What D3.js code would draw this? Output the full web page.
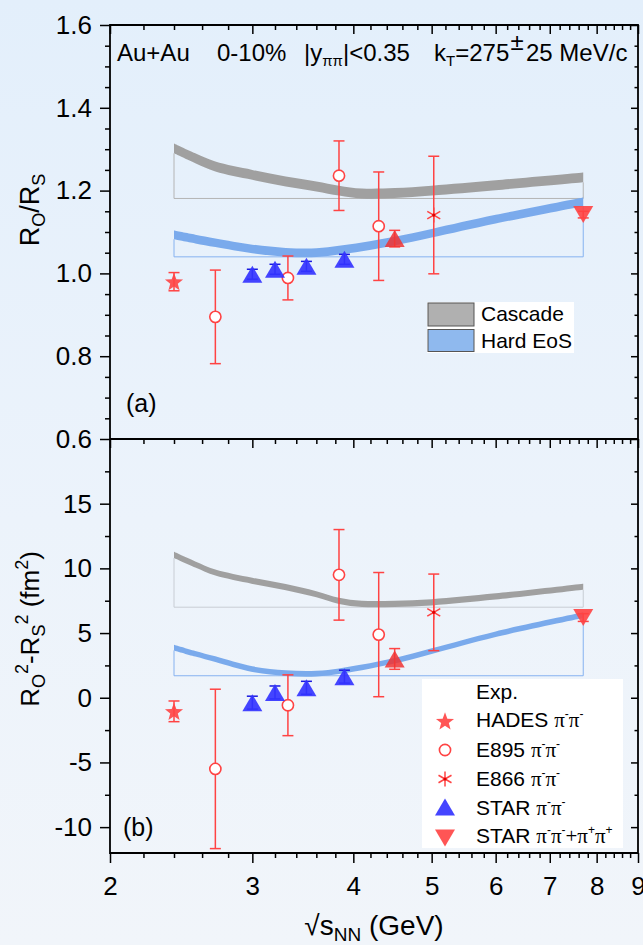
<!DOCTYPE html>
<html><head><meta charset="utf-8">
<script src="https://cdn.jsdelivr.net/npm/d3@7"></script>
<style>
html,body{margin:0;padding:0;background:#EAF2FB;}
svg{display:block;font-family:"Liberation Sans",Arial,Helvetica,sans-serif;}
</style></head><body>
<svg id="chart" width="643" height="945"></svg>
<script>
// ---- model bands (sampled along sqrt(s_NN), GeV) ----
const bandEnergy   = [2.4, 2.55, 2.7, 3.0, 3.3, 3.6, 3.84, 4.1, 4.5, 5.0, 6.0, 7.7];
const cascadeRatio = [1.302, 1.278, 1.258, 1.238, 1.222, 1.210, 1.200, 1.193, 1.194, 1.200, 1.213, 1.232];
const hardEosRatio = [1.093, 1.083, 1.074, 1.059, 1.051, 1.050, 1.056, 1.064, 1.078, 1.097, 1.131, 1.173];
const cascadeDiff  = [11.04, 10.30, 9.68, 9.04, 8.55, 8.00, 7.49, 7.26, 7.26, 7.38, 7.83, 8.58];
const hardEosDiff  = [3.88, 3.40, 2.98, 2.21, 1.90, 1.86, 2.05, 2.35, 2.86, 3.60, 4.91, 6.38];
const bandHalfRatio = [0.012, 0.0105];   // cascade, hard EoS
const bandHalfDiff  = [0.24, 0.22];
const bandBaseRatio = [1.181, 1.040];
const bandBaseDiff  = [7.0, 1.7];

// ---- measurements ----
const hadesE = [2.4];
const hadesRatio = [0.980], hadesRatioErr = [0.022];
const hadesDiff = [-1.05],  hadesDiffErr = [0.8];

const e895E = [2.7, 3.32, 3.84, 4.3];
const e895Ratio = [0.895, 0.989, 1.236, 1.114], e895RatioErr = [0.113, 0.053, 0.084, 0.131];
const e895Diff  = [-5.5, -0.58, 9.5, 4.88],     e895DiffErr  = [6.16, 2.35, 3.5, 4.8];

const e866E = [5.03];
const e866Ratio = [1.141], e866RatioErr = [0.142];
const e866Diff  = [6.6],   e866DiffErr  = [2.96];

const starE = [3.0, 3.2, 3.5, 3.9];
const starRatio = [0.998, 1.010, 1.017, 1.034], starRatioErr = [0.012, 0.012, 0.012, 0.012];
const starDiff  = [-0.38, 0.41, 0.77, 1.63],    starDiffErr  = [0.5, 0.5, 0.5, 0.5];

const star45E = [4.5];
const star45Ratio = [1.084], star45RatioErr = [0.02];
const star45Diff  = [3.0],   star45DiffErr  = [0.8];

const starBesE = [7.7];
const starBesRatio = [1.142], starBesRatioErr = [0.008];
const starBesDiff  = [6.2],   starBesDiffErr  = [0.3];

// ---- axis ticks ----
const xMajor = [2, 3, 4, 5, 6, 7, 8, 9];
const ratioMajor = [0.6, 0.8, 1.0, 1.2, 1.4, 1.6];
const diffMajor = [-10, -5, 0, 5, 10, 15];

const RED = "#FF4343", BLUE = "#3434FF";
const svg = d3.select("#chart");
const W = 643, H = 945;
const L = 110, R = 638, TOPA = 25, MID = 439, BOT = 853;

// background tint
const defs = svg.append("defs");
const grad = defs.append("linearGradient").attr("id", "bg").attr("x1", 0).attr("y1", 0).attr("x2", 0).attr("y2", 1);
grad.append("stop").attr("offset", "0%").attr("stop-color", "#E3EFFB");
grad.append("stop").attr("offset", "55%").attr("stop-color", "#ECF3FB");
grad.append("stop").attr("offset", "100%").attr("stop-color", "#F1F5FA");
svg.append("rect").attr("width", W).attr("height", H).attr("fill", "url(#bg)");

const x = d3.scaleLog().domain([2, 9]).range([L, R]);
const yA = d3.scaleLinear().domain([0.6, 1.6]).range([MID, TOPA]);
const yB = d3.scaleLinear().domain([-12, 20]).range([BOT, MID]);

const xMinor = d3.range(2.2, 8.95, 0.2).filter(v => Math.abs(v - Math.round(v)) > 0.01);

// ---- bands ----
function drawBand(y, vals, half, base, fill, outline) {
  const pts = bandEnergy.map((e, i) => ({e, v: vals[i]}));
  const area = d3.area().curve(d3.curveCatmullRom.alpha(0.5))
    .x(d => x(d.e)).y0(d => y(d.v - half)).y1(d => y(d.v + half));
  const first = pts[0], last = pts[pts.length - 1];
  svg.append("path")
    .attr("d", `M${x(first.e)},${y(first.v - half)}V${y(base)}H${x(last.e)}V${y(last.v - half)}`)
    .attr("fill", "none").attr("stroke", outline).attr("stroke-width", 1);
  svg.append("path").datum(pts).attr("d", area).attr("fill", fill);
}
drawBand(yA, cascadeRatio, bandHalfRatio[0], bandBaseRatio[0], "#A0A0A0", "#B4B4B4");
drawBand(yA, hardEosRatio, bandHalfRatio[1], bandBaseRatio[1], "#7AAAEC", "#86B2F0");
drawBand(yB, cascadeDiff, bandHalfDiff[0], bandBaseDiff[0], "#A0A0A0", "#C8CDD4");
drawBand(yB, hardEosDiff, bandHalfDiff[1], bandBaseDiff[1], "#7AAAEC", "#86B2F0");

// ---- marker shapes ----
function starPath(r) {
  const p = [];
  for (let i = 0; i < 10; i++) {
    const rr = i % 2 ? r * 0.42 : r;
    const a = -Math.PI / 2 + i * Math.PI / 5;
    p.push([rr * Math.cos(a), rr * Math.sin(a) + r * 0.09]);
  }
  return "M" + p.map(q => q.join(",")).join("L") + "Z";
}
const triUp = (w, h) => `M0,${-h/2}L${w/2},${h/2}L${-w/2},${h/2}Z`;
const triDown = (w, h) => `M0,${h/2}L${w/2},${-h/2}L${-w/2},${-h/2}Z`;

function marker(g, kind, cx, cy, scale = 1) {
  const t = g.append("g").attr("transform", `translate(${cx},${cy})`);
  if (kind === "star") {
    t.append("path").attr("d", starPath(9.5 * scale)).attr("fill", RED).attr("fill-opacity", 0.9);
  } else if (kind === "circle") {
    t.append("circle").attr("r", 5.6).attr("fill", "#fff").attr("stroke", RED).attr("stroke-width", 1.6);
  } else if (kind === "aster") {
    const r = 7.5;
    [90, 30, -30].forEach(a => {
      const c = Math.cos(a * Math.PI / 180) * r, s = Math.sin(a * Math.PI / 180) * r;
      t.append("line").attr("x1", -c).attr("y1", -s).attr("x2", c).attr("y2", s)
        .attr("stroke", RED).attr("stroke-width", 1.5);
    });
    t.append("circle").attr("r", 1.6).attr("fill", "#E00000");
  } else if (kind === "up") {
    t.append("path").attr("d", triUp(20 * scale, 17 * scale)).attr("fill", BLUE).attr("fill-opacity", 0.92);
  } else if (kind === "upRed") {
    t.append("path").attr("d", triUp(20 * scale, 17 * scale)).attr("fill", "#F03434").attr("fill-opacity", 0.85);
  } else if (kind === "down") {
    t.append("path").attr("d", triDown(20 * scale, 17 * scale)).attr("fill", RED).attr("fill-opacity", 0.9);
  }
}

function drawSeries(y, es, vals, errs, kind, color) {
  const g = svg.append("g");
  es.forEach((e, i) => {
    const cx = x(e), lo = y(vals[i] - errs[i]), hi = y(vals[i] + errs[i]);
    const eg = g.append("g").attr("stroke", color).attr("stroke-width", 1.5);
    eg.append("line").attr("x1", cx).attr("x2", cx).attr("y1", lo).attr("y2", hi);
    eg.append("line").attr("x1", cx - 5.5).attr("x2", cx + 5.5).attr("y1", lo).attr("y2", lo);
    eg.append("line").attr("x1", cx - 5.5).attr("x2", cx + 5.5).attr("y1", hi).attr("y2", hi);
    marker(g, kind, cx, y(vals[i]));
  });
}

[[yA, hadesRatio, hadesRatioErr, e895Ratio, e895RatioErr, e866Ratio, e866RatioErr, starRatio, starRatioErr, star45Ratio, star45RatioErr, starBesRatio, starBesRatioErr],
 [yB, hadesDiff, hadesDiffErr, e895Diff, e895DiffErr, e866Diff, e866DiffErr, starDiff, starDiffErr, star45Diff, star45DiffErr, starBesDiff, starBesDiffErr]]
.forEach(([y, hv, he, ev, ee, kv, ke, sv, se, s4v, s4e, sbv, sbe]) => {
  drawSeries(y, hadesE, hv, he, "star", RED);
  drawSeries(y, e895E, ev, ee, "circle", RED);
  drawSeries(y, e866E, kv, ke, "aster", RED);
  drawSeries(y, starE, sv, se, "up", "#1818E0");
  drawSeries(y, star45E, s4v, s4e, "upRed", RED);
  drawSeries(y, starBesE, sbv, sbe, "down", RED);
});

// ---- axes ----
function styleAxis(g) {
  g.select(".domain").remove();
  g.selectAll(".tick line").attr("stroke", "#000").attr("stroke-width", 1.5);
  g.selectAll("text").attr("fill", "#000").attr("font-size", 26)
    .attr("font-family", '"Liberation Sans",Arial,sans-serif');
}
[TOPA, MID, BOT].forEach(yy => {
  svg.append("g").attr("transform", `translate(0,${yy})`)
    .call(d3.axisBottom(x).tickValues(xMinor).tickSize(5).tickFormat("")).call(styleAxis);
  svg.append("g").attr("transform", `translate(0,${yy})`)
    .call(d3.axisBottom(x).tickValues(xMajor).tickSize(yy === BOT ? 10 : 9)
      .tickPadding(14).tickFormat(yy === BOT ? d3.format("d") : ""))
    .call(styleAxis);
});
function yAxes(y, major, minor, fmt) {
  svg.append("g").attr("transform", `translate(${L},0)`)
    .call(d3.axisLeft(y).tickValues(minor).tickSize(5).tickFormat("")).call(styleAxis);
  svg.append("g").attr("transform", `translate(${L},0)`)
    .call(d3.axisLeft(y).tickValues(major).tickSize(10).tickPadding(8).tickFormat(fmt)).call(styleAxis);
  svg.append("g").attr("transform", `translate(${R},0)`)
    .call(d3.axisLeft(y).tickValues(minor).tickSize(3.5).tickFormat("")).call(styleAxis);
  svg.append("g").attr("transform", `translate(${R},0)`)
    .call(d3.axisLeft(y).tickValues(major).tickSize(7).tickFormat("")).call(styleAxis);
}
yAxes(yA, ratioMajor, d3.range(0.65, 1.6, 0.05).filter(v => Math.abs(v * 5 - Math.round(v * 5)) > 0.01),
  d3.format(".1f"));
yAxes(yB, diffMajor, d3.range(-10, 20, 2.5).filter(v => v % 5 !== 0), d => String(d));

// frame
svg.append("path")
  .attr("d", `M${L},${TOPA}H${R}V${BOT}H${L}Z M${L},${MID}H${R}`)
  .attr("fill", "none").attr("stroke", "#000").attr("stroke-width", 1.8);

// ---- text ----
const T = (xx, yy, size) => svg.append("text").attr("x", xx).attr("y", yy).attr("font-size", size).attr("fill", "#000");

// header line
T(117, 61, 24).text("Au+Au");
T(217, 61, 24).text("0-10%");
const yh = T(304, 61, 24);
yh.append("tspan").text("|y");
yh.append("tspan").attr("font-size", 15).attr("dy", 5).text("ππ");
yh.append("tspan").attr("dy", -5).text("|<0.35");
const kt = T(434, 61, 24);
kt.append("tspan").text("k");
kt.append("tspan").attr("font-size", 15).attr("dy", 5).text("T");
kt.append("tspan").attr("dy", -5).text("=275");
T(510.5, 50, 24).text("±");
T(526, 61, 24).text("25 MeV/c");

// panel tags
T(126, 412, 25).text("(a)");
T(123, 836, 25).text("(b)");

// y titles
const ta = svg.append("text").attr("transform", "translate(39,210) rotate(-90)")
  .attr("text-anchor", "middle").attr("font-size", 27);
ta.append("tspan").text("R");
ta.append("tspan").attr("font-size", 18).attr("dy", 6).text("O");
ta.append("tspan").attr("dy", -6).text("/R");
ta.append("tspan").attr("font-size", 18).attr("dy", 6).text("S");

const tb = svg.append("text").attr("transform", "translate(39,629) rotate(-90)")
  .attr("text-anchor", "middle").attr("font-size", 26);
tb.append("tspan").text("R");
tb.append("tspan").attr("font-size", 18).attr("dy", 6).text("O");
tb.append("tspan").attr("font-size", 18).attr("dy", -17).text("2");
tb.append("tspan").attr("dy", 11).text("-R");
tb.append("tspan").attr("font-size", 18).attr("dy", 6).text("S");
tb.append("tspan").attr("font-size", 18).attr("dy", -17).text("2");
tb.append("tspan").attr("dy", 11).text(" (fm");
tb.append("tspan").attr("font-size", 18).attr("dy", -11).text("2");
tb.append("tspan").attr("dy", 11).text(")");

// x title
const tx = svg.append("text").attr("x", 374).attr("y", 935).attr("text-anchor", "middle").attr("font-size", 28);
tx.append("tspan").text("√s");
tx.append("tspan").attr("font-size", 19).attr("dy", 6).text("NN");
tx.append("tspan").attr("dy", -6).text(" (GeV)");

// ---- legend (a) ----
svg.append("rect").attr("x", 427).attr("y", 302).attr("width", 147).attr("height", 51).attr("fill", "#fff");
svg.append("rect").attr("x", 428).attr("y", 303).attr("width", 46).attr("height", 23)
  .attr("fill", "#B0B0B0").attr("stroke", "#555").attr("stroke-width", 1);
svg.append("rect").attr("x", 428).attr("y", 329.5).attr("width", 46).attr("height", 22)
  .attr("fill", "#8FB9EE").attr("stroke", "#555").attr("stroke-width", 1);
T(481, 321, 21).text("Cascade");
T(481, 348, 21).text("Hard EoS");

// ---- legend (b) ----
svg.append("rect").attr("x", 422).attr("y", 679).attr("width", 201).attr("height", 169).attr("fill", "#fff");
T(476, 699, 21).text("Exp.");
const legRows = [
  ["star", "HADES ", "π", "-", "π", "-"],
  ["circle", "E895 ", "π", "-", "π", "-"],
  ["aster", "E866 ", "π", "-", "π", "-"],
  ["up", "STAR ", "π", "-", "π", "-"],
  ["down", "STAR ", "π", "-", "π", "-", "+π", "+", "π", "+"],
];
const legBase = [727, 757, 786, 815, 843];
const legSym = [721, 750, 779, 807, 838];
legRows.forEach((r, i) => {
  const lg = svg.append("g");
  marker(lg, r[0], 445, legSym[i]);
  const t = T(476, legBase[i], 21);
  t.append("tspan").text(r[1]);
  for (let k = 2; k < r.length; k += 2) {
    t.append("tspan").attr("font-family", '"Liberation Serif","Times New Roman",serif').attr("dy", k === 2 ? 0 : 9)
      .text(r[k]);
    t.append("tspan").attr("font-size", 12).attr("dy", -9).text(r[k + 1]);
  }
});
</script>
</body></html>
